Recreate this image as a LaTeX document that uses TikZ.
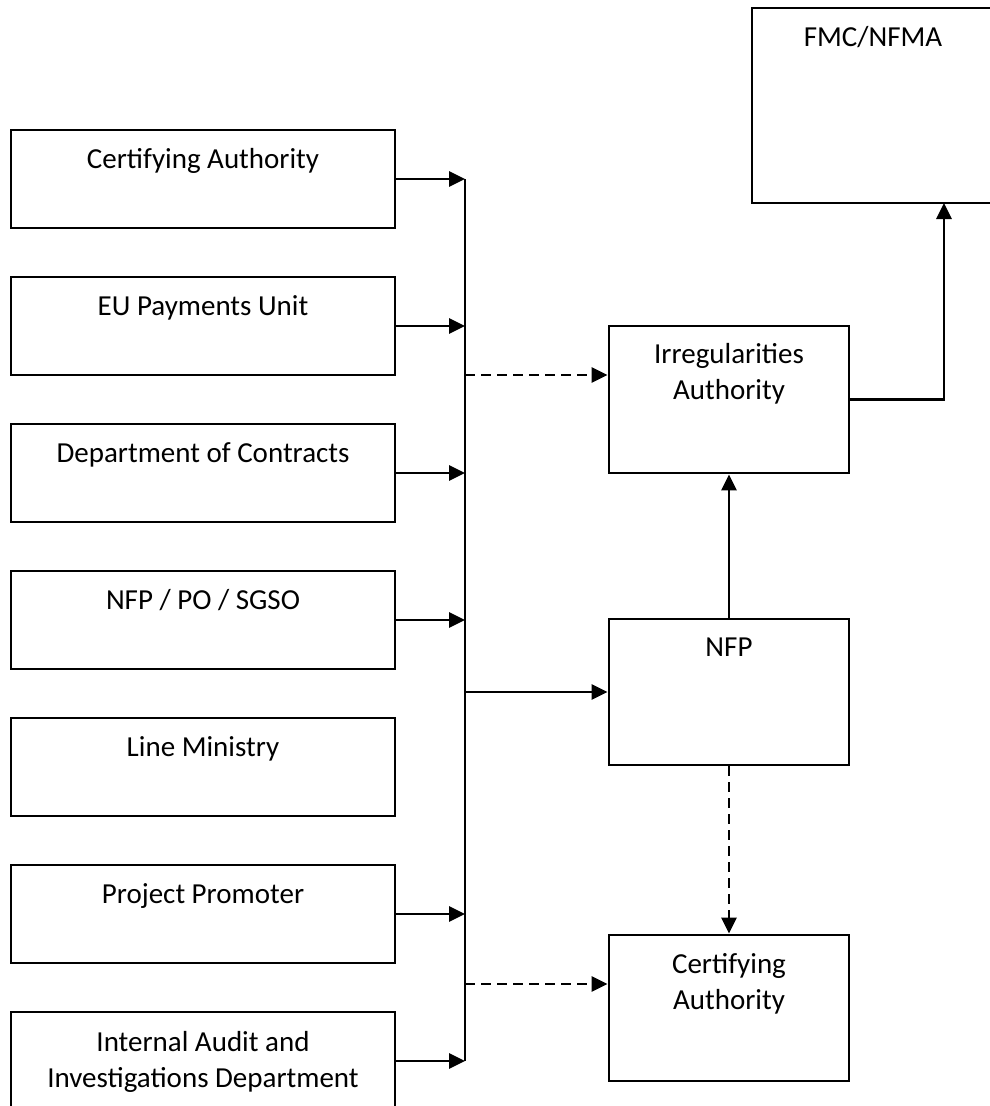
\documentclass[tikz,border=0pt]{standalone}
\usepackage{fontspec}
\setmainfont{Carlito}
\usetikzlibrary{arrows.meta,calc}
\begin{document}
\begin{tikzpicture}[x=1pt,y=-1pt,
  box/.style={draw,line width=2.8pt,inner sep=0pt,rectangle},
  lbox/.style={box,minimum width=384pt,minimum height=98pt},
  rbox/.style={box,minimum width=240pt,minimum height=146pt},
  txt/.style={anchor=base,inner sep=0pt,font=\fontsize{29}{36}\selectfont},
  conn/.style={line width=2.9pt,line join=miter},
  arr/.style={conn,-{Triangle[length=16pt,width=15pt]}},
  dsh/.style={arr,dash pattern=on 10pt off 6pt}]
\useasboundingbox (0,0) rectangle (990,1106);
\clip (0,0) rectangle (990,1106);

% left column
\node[lbox] (ca)  at (203,179)  {};
\node[lbox] (eu)  at (203,326)  {};
\node[lbox] (doc) at (203,473)  {};
\node[lbox] (nps) at (203,620)  {};
\node[lbox] (lm)  at (203,767)  {};
\node[lbox] (pp)  at (203,914)  {};
\node[lbox] (ia)  at (203,1061) {};
\node[txt] (tca)  at ($(ca.north)+(0,40)$)  {Certifying Authority};
\node[txt] (teu)  at ($(eu.north)+(0,40)$)  {EU Payments Unit};
\node[txt] (tdoc) at ($(doc.north)+(0,40)$) {Department of Contracts};
\node[txt] (tnps) at ($(nps.north)+(0,40)$) {NFP / PO / SGSO};
\node[txt] (tlm)  at ($(lm.north)+(0,40)$)  {Line Ministry};
\node[txt] (tpp)  at ($(pp.north)+(0,40)$)  {Project Promoter};
\node[txt] (tia)  at ($(ia.north)+(0,41)$)  {\begin{tabular}[t]{@{}c@{}}Internal Audit and\\Investigations Department\end{tabular}};

% right column
\node[box,minimum width=242pt,minimum height=195pt] (fmc) at (873,105.5) {};
\node[rbox,minimum height=147pt] (irr) at (729,399.5) {};
\node[rbox] (nfp) at (729,692)  {};
\node[rbox] (ca2) at (729,1008) {};
\node[txt] (tfmc) at ($(fmc.north)+(0,40)$) {FMC/NFMA};
\node[txt] (tirr) at ($(irr.north)+(0,39)$) {\begin{tabular}[t]{@{}c@{}}Irregularities\\Authority\end{tabular}};
\node[txt] (tnfp) at ($(nfp.north)+(0,39)$) {NFP};
\node[txt] (tca2) at ($(ca2.north)+(0,40)$) {\begin{tabular}[t]{@{}c@{}}Certifying\\Authority\end{tabular}};

% bus
\coordinate (bt) at (465,179);
\coordinate (bb) at (465,1061);
\draw[conn] (bt) -- (bb);
\foreach \b in {ca,eu,doc,nps,pp,ia}{
  \draw[arr] (\b.east) -- (\b.east -| bt);
}
\coordinate (j1) at (465,375);
\coordinate (j3) at (465,984);
\draw[dsh] (j1) -- (j1 -| irr.west);
\draw[arr] (nfp.west -| bt) -- (nfp.west);
\draw[dsh] (j3) -- (j3 -| ca2.west);

\draw[arr] (nfp.north) -- (irr.south);
\draw[dsh] (nfp.south) -- (ca2.north);
\coordinate (fin) at (944,203);
\draw[arr] (irr.east) -| (fin);
\end{tikzpicture}
\end{document}
